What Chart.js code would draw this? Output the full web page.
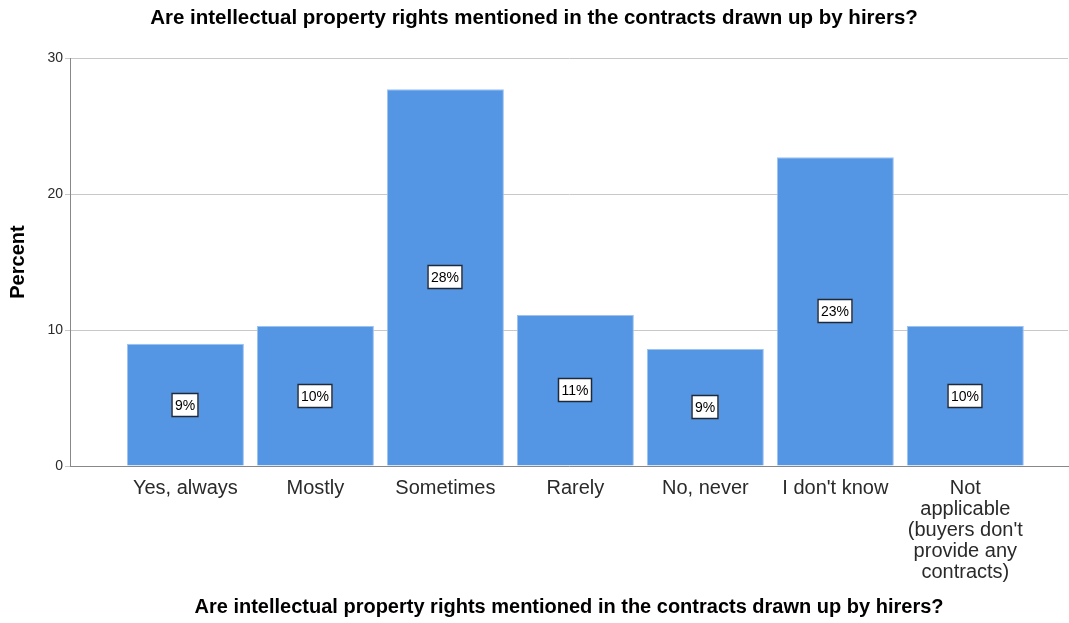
<!DOCTYPE html>
<html>
<head>
<meta charset="utf-8">
<script src="https://cdn.jsdelivr.net/npm/chart.js@4.4.1/dist/chart.umd.min.js"></script>
<style>
  html, body { margin: 0; padding: 0; background: #fff; }
  #wrap { width: 1069px; height: 623px; }
</style>
</head>
<body>
<div id="wrap"><canvas id="chart" width="1069" height="623"></canvas></div>
<script>
const titleText = 'Are intellectual property rights mentioned in the contracts drawn up by hirers?';
const categories = [
  ['Yes, always'],
  ['Mostly'],
  ['Sometimes'],
  ['Rarely'],
  ['No, never'],
  ["I don't know"],
  ['Not', 'applicable', "(buyers don't", 'provide any', 'contracts)']
];
const percents = [9.0, 10.3, 27.7, 11.1, 8.6, 22.7, 10.3];
const pctLabels = ['9%', '10%', '28%', '11%', '9%', '23%', '10%'];
const yTicks = [0, 10, 20, 30];

const FONT = "'Liberation Sans', Arial, sans-serif";

// white boxed percentage in the middle of each bar
const boxLabels = {
  id: 'boxLabels',
  afterDatasetsDraw(chart) {
    const ctx = chart.ctx;
    const meta = chart.getDatasetMeta(0);
    ctx.save();
    ctx.font = '14px ' + FONT;
    ctx.textAlign = 'center';
    ctx.textBaseline = 'middle';
    meta.data.forEach((bar, i) => {
      const txt = pctLabels[i];
      const cx = Math.round(bar.x);
      const cy = Math.round((bar.y + bar.base) / 2);
      const w = Math.round(ctx.measureText(txt).width) + 7;
      const h = 24;
      ctx.fillStyle = '#fff';
      ctx.fillRect(cx - w / 2, cy - h / 2, w, h);
      ctx.strokeStyle = '#1e2a3a';
      ctx.lineWidth = 1.5;
      ctx.strokeRect(cx - w / 2 + 0.5, cy - h / 2 + 0.5, w - 1, h - 1);
      ctx.fillStyle = '#000';
      ctx.fillText(txt, cx, cy + 1);
    });
    ctx.restore();
  }
};

new Chart(document.getElementById('chart'), {
  type: 'bar',
  data: {
    datasets: [{
      data: percents.map((v, i) => ({ x: i, y: v })),
      backgroundColor: '#5596e4',
      borderColor: '#9cc2f0',
      borderWidth: 1,
      barPercentage: 0.9,
      categoryPercentage: 1.0
    }]
  },
  options: {
    responsive: false,
    animation: false,
    layout: { padding: { left: 0, right: 1, top: 0, bottom: 0 } },
    plugins: {
      legend: { display: false },
      tooltip: { enabled: false },
      title: {
        display: true,
        text: titleText,
        color: '#000',
        font: { family: FONT, size: 20.5, weight: 'bold' },
        padding: { top: 6, bottom: 27.5 }
      }
    },
    scales: {
      x: {
        type: 'linear',
        offset: false,
        min: -0.888,
        max: 6.79,
        afterBuildTicks: s => { s.ticks = categories.map((_, i) => ({ value: i })); },
        afterFit: s => { s.height = 157; },
        grid: { display: false, drawTicks: false, offset: false },
        border: { color: '#888', width: 1 },
        ticks: {
          autoSkip: false,
          maxRotation: 0,
          padding: 12,
          color: '#2a2a2a',
          font: { family: FONT, size: 20, lineHeight: '21px' },
          callback: v => categories[v] || ''
        },
        title: {
          display: true,
          text: titleText,
          color: '#000',
          font: { family: FONT, size: 20, weight: 'bold' },
          padding: { top: 4, bottom: 4 }
        }
      },
      y: {
        min: 0,
        max: 30,
        afterBuildTicks: s => { s.ticks = yTicks.map(v => ({ value: v })); },
        afterFit: s => { s.width = 70; },
        grid: { color: '#c8c8c8', drawTicks: true, tickLength: 5 },
        border: { color: '#888', width: 1 },
        ticks: {
          padding: 2,
          color: '#2a2a2a',
          font: { family: FONT, size: 14 }
        },
        title: {
          display: true,
          text: 'Percent',
          color: '#000',
          font: { family: FONT, size: 20, weight: 'bold' },
          padding: { top: 6, bottom: 0 }
        }
      }
    }
  },
  plugins: [boxLabels]
});
</script>
</body>
</html>
